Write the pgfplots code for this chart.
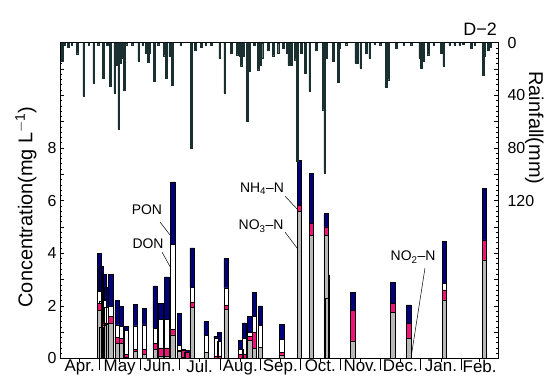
\documentclass[border=0pt]{standalone}
\usepackage{fontspec}
\setmainfont{Liberation Sans}
\usepackage{pgfplots}
\usepackage{pgfplotstable}
\pgfplotsset{compat=1.18}
\definecolor{cgray}{HTML}{B8B8B8}
\definecolor{cpink}{HTML}{F0147A}
\definecolor{cnavy}{HTML}{00007F}
\definecolor{crain}{HTML}{1A3030}
\pgfplotstableread{
day no3 nh4 don pon
30.1 1.84 0.26 0.45 1.43
31.6 1.20 0.05 0.91 1.34
33.9 1.25 0.10 0.85 1.00
35.5 1.30 0.05 0.60 0.75
38.7 1.34 0.26 0.39 1.21
43.6 0.58 0.23 0.47 0.92
46.8 0.58 0.19 0.44 0.78
50.6 0.05 0.12 0.91 0.13
57.6 0.26 0.09 0.89 0.82
64.4 0.17 0.18 0.93 0.63
72.6 0.35 0.23 0.57 1.61
77.0 0.10 0.30 1.10 0.60
81.4 0.10 0.30 1.10 1.60
86.0 0.90 0.20 3.25 2.36
91.1 0.26 0.04 0.20 1.22
94.2 0.05 0.25 0.00 0.05
96.8 0.00 0.22 0.00 0.08
100.8 1.95 0.20 0.55 1.50
111.5 0.25 0.00 0.64 0.51
119.0 0.00 0.10 0.65 0.10
121.6 0.00 0.10 0.55 0.35
126.7 1.86 0.17 0.65 1.11
137.9 0.00 0.15 0.20 0.35
140.7 0.00 0.15 0.60 0.60
144.7 0.68 0.17 0.15 0.60
148.3 0.38 0.62 0.60 0.90
152.7 0.42 0.00 0.83 0.75
169.0 0.14 0.10 0.49 0.57
182.6 5.59 0.22 0.00 1.73
191.8 4.67 0.48 0.00 1.87
202.9 4.67 0.33 0.00 0.50
204.0 2.29 0.17 0.00 0.72
223.4 0.67 1.15 0.00 0.69
253.6 1.75 0.33 0.00 0.82
265.8 0.77 0.57 0.00 0.70
293.2 2.23 0.38 0.25 1.59
323.7 3.75 0.76 0.00 1.94
}\conc
\pgfplotstableread{
day mm
1.5 14.2
3.5 2.2
6.1 3.3
9.0 1.5
13.0 8.4
18.1 40.8
22.0 1.8
25.7 30.7
29.0 1.5
32.8 26.8
36.0 2.2
38.4 33.2
41.7 38.3
43.2 16.8
44.8 65.7
46.3 15.4
47.3 11.7
48.8 36.2
50.6 1.5
55.0 1.5
60.0 14.2
63.0 1.8
65.8 7.8
67.1 15.0
68.4 7.8
71.7 29.3
75.0 1.5
79.3 9.9
81.1 26.8
83.7 10.5
85.6 32.6
92.0 1.5
100.1 80.0
103.2 5.4
107.8 3.3
111.0 1.5
115.4 2.2
121.8 11.7
125.6 38.3
130.6 7.8
135.0 9.1
137.0 10.5
138.3 17.5
140.1 9.9
142.8 59.8
144.7 21.8
148.0 2.2
151.0 20.5
153.1 16.8
154.0 11.7
158.6 5.4
162.4 9.9
166.2 7.8
170.1 4.0
173.3 7.8
174.4 16.8
176.4 16.8
179.4 12.9
181.0 90.2
184.0 7.8
187.1 23.0
190.4 37.0
195.5 5.4
200.6 50.9
201.9 99.0
203.1 12.0
208.2 14.2
212.0 30.2
213.3 4.0
218.0 1.5
225.5 15.4
226.7 15.7
229.3 19.3
233.6 7.8
236.2 11.7
240.0 1.0
244.0 1.5
248.8 33.7
250.1 28.1
256.5 4.0
262.0 1.5
267.9 1.5
274.3 11.7
275.5 19.3
276.8 14.2
280.6 9.1
285.0 1.5
290.8 7.8
292.6 18.0
297.2 2.2
301.0 1.5
304.8 1.5
307.3 1.2
313.7 4.0
316.3 1.5
322.6 24.4
323.9 9.9
326.4 5.4
328.4 3.3
}\rain
\begin{document}
\begin{tikzpicture}
\begin{axis}[
  name=main,
  scale only axis, width=438bp, height=315.8bp,
  xmin=0, xmax=334, ymin=0, ymax=12,
  clip=false,
  axis line style={line width=0.8bp},
  every tick/.style={black, line width=0.6bp},
  tick align=inside,
  major tick length=4bp, minor tick length=2bp,
  xtick pos=bottom,
  xtick={15,45.5,76,106.5,137.5,168,198.5,229,259.5,290.5,320},
  xticklabels={Apr.,May,Jun.,Jul.,Aug.,Sep.,Oct.,Nov.,Dec.,Jan.,Feb.},
  x tick style={yshift=-4bp},
  xticklabel style={font=\fontsize{17}{19}\selectfont, yshift=2bp},
  ytick={0,1,...,12},
  yticklabels={0,,2,,4,,6,,8,,,,},
  minor y tick num=4,
  ytick pos=both, yticklabel pos=left,
  yticklabel style={font=\fontsize{16}{18}\selectfont},
  ylabel={Concentration(mg L\textsuperscript{$-$1})},
  every axis y label/.style={at={(rel axis cs:0,0.48)}, xshift=-34bp, anchor=center, rotate=90, font=\fontsize{20}{22}\selectfont},
  ybar stacked, bar width=3.4,
]
\coordinate (bbSW) at (rel axis cs:-0.137,-0.0776);
\coordinate (bbNE) at (rel axis cs:1.1073,1.1352);
\addplot[fill=cgray, draw=black, line width=0.6bp] table[x=day,y=no3]{\conc};
\addplot[fill=cpink, draw=black, line width=0.6bp] table[x=day,y=nh4]{\conc};
\addplot[fill=white, draw=black, line width=0.6bp] table[x=day,y=don]{\conc};
\addplot[fill=cnavy, draw=black, line width=0.6bp] table[x=day,y=pon]{\conc};
\node[font=\fontsize{14}{16}\selectfont] at (axis cs:66.3,5.64) {PON};
\draw[line width=0.5bp] (axis cs:76.3,5.18) -- (axis cs:84.6,4.65);
\node[font=\fontsize{14}{16}\selectfont] at (axis cs:67.1,4.38) {DON};
\draw[line width=0.5bp] (axis cs:77.8,4.04) -- (axis cs:84.6,3.43);
\node[font=\fontsize{14}{16}\selectfont] at (axis cs:154,6.44) {NH\textsubscript{4}–N};
\draw[line width=0.5bp] (axis cs:171.6,6.17) -- (axis cs:181.5,5.64);
\node[font=\fontsize{14}{16}\selectfont] at (axis cs:153.3,5.03) {NO\textsubscript{3}–N};
\draw[line width=0.5bp] (axis cs:171.6,4.8) -- (axis cs:181.5,4.15);
\node[font=\fontsize{14}{16}\selectfont] at (axis cs:269.2,3.85) {NO\textsubscript{2}–N};
\draw[line width=0.5bp] (axis cs:278.3,3.43) -- (axis cs:267.7,0.04);
\node[font=\fontsize{18}{20}\selectfont, anchor=south east, inner sep=1bp] at (rel axis cs:1,1.02) {D−2};
\node[font=\fontsize{20}{22}\selectfont, rotate=-90, anchor=center, inner sep=0pt] at (rel axis cs:1.083,0.73) {Rainfall(mm)};
\end{axis}
\begin{axis}[
  scale only axis, width=438bp, height=315.8bp,
  xmin=0, xmax=334, ymin=0, ymax=240, y dir=reverse,
  axis line style={line width=0.8bp},
  every tick/.style={black, line width=0.6bp},
  tick align=outside, major tick length=12bp,
  xtick pos=bottom,
  xtick={30,61,91,122,153,183,214,244,275,306},
  xticklabels={},
  ytick={0,40,80,120}, ytick pos=right,
  y tick style={draw=none},
  yticklabel style={font=\fontsize{16}{18}\selectfont, /pgf/number format/assume math mode=true, xshift=-6bp},
  ybar, bar width=1.2,
]
\addplot[fill=crain, draw=crain, line width=0.3bp] table[x=day,y=mm]{\rain};
\end{axis}
\pgfresetboundingbox
\useasboundingbox (bbSW) rectangle (bbNE);
\end{tikzpicture}
\end{document}
